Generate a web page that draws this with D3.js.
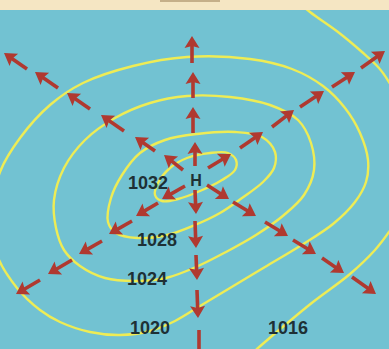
<!DOCTYPE html>
<html><head><meta charset="utf-8">
<script src="https://cdn.jsdelivr.net/npm/d3@7"></script>
<style>html,body{margin:0;padding:0;background:#f4e6c4;}svg{display:block;}</style>
</head><body>
<script>
// ---- data (map units ≈ picture units) ----
const isobarLabels = ["1032", "1028", "1024", "1020", "1016"];
const labelPos = [[148, 183], [157, 240], [147, 279], [150, 328], [288, 328]];
const isobar1032 = [[155,195],[158,183],[170,168],[187,158],[210,153],[228,153],[236,160],[235,170],[222,180],[200,191],[178,199],[162,201]];
const isobar1028 = [[108,222],[111,198],[122,175],[140,153],[165,140],[197,134],[235,132],[262,137],[275,152],[274,168],[263,182],[242,198],[220,213],[195,225],[167,235],[137,238],[116,233]];
const isobar1024 = [[56,228],[54,200],[64,168],[85,140],[115,118],[150,103],[187,96],[230,97],[270,105],[298,120],[311,143],[314,170],[304,195],[284,215],[256,235],[226,252],[196,267],[166,278],[135,281],[105,278],[80,266],[64,250]];
const isobar1020 = [[-8,215],[0,172],[20,138],[50,105],[83,83],[133,66],[187,57],[250,59],[292,69],[323,86],[345,108],[360,133],[368,160],[366,182],[355,202],[333,224],[300,246],[265,267],[230,288],[200,306],[175,321],[150,331],[120,335],[90,332],[60,322],[40,310],[17,288],[-3,255]];
const isobar1016 = [[290,-5],[310,12],[338,32],[362,52],[379,68],[389,82],[403,108],[411,150],[408,195],[398,218],[389,232],[375,250],[350,274],[313,302],[285,325],[257,349],[240,365]];
const pressureH = [[196, 180]];
// arrows: [tailX, tailY, tipX, tipY]
const arrowsUp = [[192,63,192,36],[193,98,193,72],[193,133,193,107],[195,166,195,142]];
const arrowsDown = [[195,190,196,214],[195,221,196,248],[196,255,197,280],[197,290,198,318]];
const arrowsUpLeft = [[27,69,4,53],[58,88,35,72],[90,109,67,93],[124,131,101,115],[155,151,135,137],[183,170,164,155]];
const arrowsUpRight = [[208,168,231,154],[240,148,263,132],[272,127,294,110],[300,107,324,91],[332,87,355,72],[361,68,385,51]];
const arrowsDownLeft = [[185,186,162,199],[158,203,136,216],[132,221,109,234],[102,241,79,254],[72,260,48,274],[40,280,16,294]];
const arrowsDownRight = [[207,185,229,199],[233,202,256,216],[265,222,288,236],[293,240,316,254],[322,258,344,273],[352,277,376,294]];
const dashSegments = [[199,330,199,349]];

// ---- drawing ----
const W = 389, H = 349;
const x = d3.scaleLinear().domain([0, 389]).range([0, W]);
const y = d3.scaleLinear().domain([0, 349]).range([0, H]);

const svg = d3.select("body").append("svg").attr("width", W).attr("height", H);

// sea background
svg.append("rect").attr("x", 0).attr("y", 0).attr("width", W).attr("height", H).attr("fill", "#72c2d2");

// isobars
const closedLine = d3.line().x(d => x(d[0])).y(d => y(d[1])).curve(d3.curveCatmullRomClosed.alpha(0.5));
const openLine = d3.line().x(d => x(d[0])).y(d => y(d[1])).curve(d3.curveCatmullRom.alpha(0.5));
const closedIsobars = [isobar1032, isobar1028, isobar1024, isobar1020];
const gIso = svg.append("g").attr("fill", "none").attr("stroke", "#eeec55").attr("stroke-width", 2.4);
gIso.selectAll("path.closed").data(closedIsobars).join("path").attr("class", "closed").attr("d", closedLine);
gIso.append("path").datum(isobar1016).attr("d", openLine);

// arrows
const arrowColor = "#b03930";
const allArrows = [].concat(arrowsUp, arrowsDown, arrowsUpLeft, arrowsUpRight, arrowsDownLeft, arrowsDownRight);
const gArr = svg.append("g");
const headLen = 12, headHalf = 7.5, notch = 2;
allArrows.forEach(a => {
  const x1 = x(a[0]), y1 = y(a[1]), x2 = x(a[2]), y2 = y(a[3]);
  const dx = x2 - x1, dy = y2 - y1, L = Math.hypot(dx, dy);
  const ux = dx / L, uy = dy / L, px = -uy, py = ux;
  const bx = x2 - ux * headLen, by = y2 - uy * headLen;
  gArr.append("line").attr("x1", x1).attr("y1", y1).attr("x2", bx + ux * 2.5).attr("y2", by + uy * 2.5)
    .attr("stroke", arrowColor).attr("stroke-width", 3.6).attr("stroke-linecap", "butt");
  gArr.append("path").attr("d", `M${x2},${y2}L${bx + px * headHalf},${by + py * headHalf}L${bx + ux * notch},${by + uy * notch}L${bx - px * headHalf},${by - py * headHalf}Z`)
    .attr("fill", arrowColor);
});
gArr.selectAll("line.dash").data(dashSegments).join("line").attr("class", "dash")
  .attr("x1", d => x(d[0])).attr("y1", d => y(d[1])).attr("x2", d => x(d[2])).attr("y2", d => y(d[3]))
  .attr("stroke", arrowColor).attr("stroke-width", 3.6);

// labels
svg.append("g").selectAll("text").data(isobarLabels).join("text")
  .attr("x", (d, i) => x(labelPos[i][0])).attr("y", (d, i) => y(labelPos[i][1]))
  .attr("text-anchor", "middle").attr("dominant-baseline", "central")
  .attr("font-family", "'Liberation Sans', Arial, sans-serif").attr("font-weight", "bold")
  .attr("font-size", 18).attr("fill", "#1e3035").text(d => d);

svg.selectAll("text.h").data(pressureH).join("text").attr("class", "h")
  .attr("x", d => x(d[0])).attr("y", d => y(d[1]))
  .attr("text-anchor", "middle").attr("dominant-baseline", "central")
  .attr("font-family", "'Liberation Sans', Arial, sans-serif").attr("font-weight", "bold")
  .attr("font-size", 16).attr("fill", "#1e3035").text("H");

// cream paper edge at top
svg.append("rect").attr("x", 0).attr("y", 0).attr("width", W).attr("height", 10).attr("fill", "#f5e6c3");
svg.append("rect").attr("x", 160).attr("y", 0).attr("width", 60).attr("height", 2).attr("fill", "#a58a63").attr("opacity", 0.6);
</script>
</body></html>
